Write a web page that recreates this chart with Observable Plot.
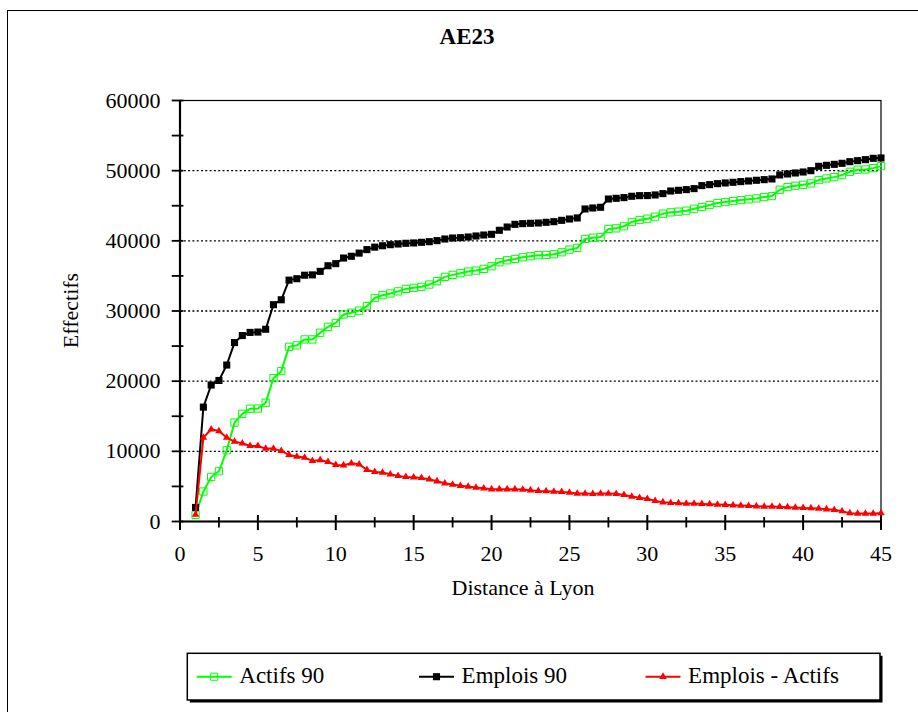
<!DOCTYPE html>
<html><head><meta charset="utf-8">
<script src="https://cdn.jsdelivr.net/npm/d3@7"></script>
<script src="https://cdn.jsdelivr.net/npm/@observablehq/plot@0.6"></script>
<style>
body{margin:0;background:#fff;}
#wrap{position:relative;width:918px;height:712px;overflow:hidden;font-family:'Liberation Serif','Times New Roman',serif;}
#border{position:absolute;left:7px;top:10px;width:960px;height:760px;border:1.6px solid #000;}
#chart{position:absolute;left:0;top:0;}
#overlay{position:absolute;left:0;top:0;}
svg text{font-family:'Liberation Serif','Times New Roman',serif;}
</style></head><body>
<div id="wrap"><div id="border"></div><div id="chart"></div><svg id="overlay" width="918" height="712"></svg></div>
<script>
const title = "AE23";
const xTitle = "Distance à Lyon";
const yTitle = "Effectifs";
const seriesNames = ["Actifs 90", "Emplois 90", "Emplois - Actifs"];
const seriesColors = ["#00ff00", "#000000", "#ff0000"];

const distances = [1,1.5,2,2.5,3,3.5,4,4.5,5,5.5,6,6.5,7,7.5,8,8.5,9,9.5,10,10.5,
  11,11.5,12,12.5,13,13.5,14,14.5,15,15.5,16,16.5,17,17.5,18,18.5,19,19.5,20,20.5,
  21,21.5,22,22.5,23,23.5,24,24.5,25,25.5,26,26.5,27,27.5,28,28.5,29,29.5,30,30.5,
  31,31.5,32,32.5,33,33.5,34,34.5,35,35.5,36,36.5,37,37.5,38,38.5,39,39.5,40,40.5,
  41,41.5,42,42.5,43,43.5,44,44.5,45];

const actifs90 = [950,4270,6350,7160,10150,14100,15350,16070,16100,16930,20430,21430,24900,25100,25950,25950,26900,27750,28300,29500,
  29750,30050,30700,31850,32250,32500,32800,33150,33300,33450,33770,34250,34860,35150,35380,35620,35760,36000,36380,36950,
  37230,37420,37660,37800,37950,37990,38090,38370,38750,38990,40270,40450,40550,41690,41780,42070,42690,42970,43160,43450,
  43870,44060,44160,44300,44580,44820,45100,45390,45530,45670,45810,45910,46050,46240,46380,47280,47660,47850,47990,48180,
  48660,48890,49080,49370,49840,50130,50170,50360,50650];

const emplois90 = [2000,16300,19450,20100,22300,25500,26500,26950,27000,27400,30900,31600,34400,34600,35100,35150,35650,36450,36750,37550,
  37800,38250,38750,39100,39300,39450,39550,39650,39700,39790,39880,40030,40260,40400,40450,40550,40690,40830,40930,41500,
  41970,42350,42450,42500,42540,42640,42730,42920,43110,43260,44540,44680,44780,45960,46060,46160,46350,46440,46450,46540,
  46730,47100,47200,47300,47440,47870,48010,48150,48250,48340,48440,48530,48630,48720,48820,49390,49530,49670,49810,50000,
  50620,50760,50900,51050,51280,51430,51570,51760,51810];

const emploisMoinsActifs = [1000,11950,13140,12900,11950,11380,11150,10770,10770,10390,10390,10060,9490,9250,9110,8630,8770,8490,8060,8020,
  8300,8160,7350,7070,6970,6730,6500,6360,6300,6210,6020,5740,5450,5260,5080,4980,4840,4740,4600,4600,
  4600,4600,4550,4460,4360,4320,4270,4220,4130,3980,3980,3940,3980,3980,3940,3790,3560,3370,3230,2940,
  2750,2660,2610,2560,2560,2510,2470,2420,2370,2320,2280,2230,2180,2140,2140,2090,2040,1990,1940,1900,
  1850,1750,1660,1470,1190,1140,1140,1140,1190];

const yLabelTicks = [0,10000,20000,30000,40000,50000,60000];
const yGridTicks = [10000,20000,30000,40000,50000];
const yMarkTicks = [0,5000,10000,15000,20000,25000,30000,35000,40000,45000,50000,55000,60000];
const xLabelTicks = [0,5,10,15,20,25,30,35,40,45];
const xMinorTicks = [2.5,7.5,12.5,17.5,22.5,27.5,32.5,37.5,42.5];

const toRows = vals => distances.map((d, i) => ({d, v: vals[i]}));
const rowsA = toRows(actifs90), rowsE = toRows(emplois90), rowsD = toRows(emploisMoinsActifs);

const FONT = "'Liberation Serif','Times New Roman',serif";
const chart = Plot.plot({
  width: 918, height: 712,
  marginLeft: 179.5, marginRight: 37.5, marginTop: 100, marginBottom: 191,
  x: {domain: [0, 45]},
  y: {domain: [0, 60000]},
  style: {background: "transparent", fontFamily: FONT, fontSize: "22px", color: "#000", overflow: "visible"},
  marks: [
    Plot.ruleY(yGridTicks, {stroke: "#000", strokeWidth: 1.4, strokeDasharray: "2,2.3"}),
    Plot.frame({stroke: "#000", strokeWidth: 1.2}),
    Plot.axisY({ticks: yLabelTicks, tickSize: 0, tickPadding: 19.5, tickFormat: d => String(d), label: null, fontSize: 22}),
    Plot.axisX({ticks: xLabelTicks, tickSize: 0, tickPadding: 24, tickFormat: d => String(d), label: null, fontSize: 22}),
    Plot.ruleY(yMarkTicks, {x1: -0.5, x2: 0.25, stroke: "#000", strokeWidth: 1.8}),
    Plot.ruleX(xLabelTicks, {y1: -1300, y2: 850, stroke: "#000", strokeWidth: 2}),
    Plot.ruleX(xMinorTicks, {y1: -920, y2: 560, stroke: "#000", strokeWidth: 1.8}),
    Plot.ruleX([0], {stroke: "#000", strokeWidth: 2.2}),
    Plot.ruleY([0], {stroke: "#000", strokeWidth: 2.2}),
    Plot.line(rowsA, {x: "d", y: "v", stroke: seriesColors[0], strokeWidth: 2}),
    Plot.dot(rowsA, {x: "d", y: "v", symbol: "square", r: 4.1, stroke: seriesColors[0], fill: "none", strokeWidth: 1}),
    Plot.line(rowsE, {x: "d", y: "v", stroke: seriesColors[1], strokeWidth: 2}),
    Plot.dot(rowsE, {x: "d", y: "v", symbol: "square", r: 4, fill: seriesColors[1], stroke: "none"}),
    Plot.line(rowsD, {x: "d", y: "v", stroke: seriesColors[2], strokeWidth: 2}),
    Plot.dot(rowsD, {x: "d", y: "v", symbol: "triangle", r: 2.8, fill: seriesColors[2], stroke: "none"})
  ]
});
document.getElementById("chart").appendChild(chart);

// Titles and legend
const ov = d3.select("#overlay");
ov.append("text").attr("x", 467).attr("y", 44).attr("text-anchor", "middle")
  .attr("font-size", 23).attr("font-weight", "bold").text(title);
ov.append("text").attr("transform", "translate(78,310.5) rotate(-90)").attr("text-anchor", "middle")
  .attr("font-size", 22).text(yTitle);
ov.append("text").attr("x", 523).attr("y", 595).attr("text-anchor", "middle")
  .attr("font-size", 22).text(xTitle);

const lg = {x: 187.3, y: 653.3, w: 692.7, h: 46.7};
ov.append("rect").attr("x", lg.x + 2.5).attr("y", lg.y + 2.5).attr("width", lg.w).attr("height", lg.h).attr("fill", "#000");
ov.append("rect").attr("x", lg.x).attr("y", lg.y).attr("width", lg.w).attr("height", lg.h)
  .attr("fill", "#fff").attr("stroke", "#000").attr("stroke-width", 1.5);
const itemX = [196.7, 419, 645.5];
const symbols = [d3.symbolSquare, d3.symbolSquare, d3.symbolTriangle];
seriesNames.forEach((name, i) => {
  const x0 = itemX[i], ly = 676.7;
  ov.append("line").attr("x1", x0).attr("x2", x0 + 35).attr("y1", ly).attr("y2", ly)
    .attr("stroke", seriesColors[i]).attr("stroke-width", 2);
  const r = i === 2 ? 2.8 : 4;
  const p = ov.append("path").attr("d", d3.symbol(symbols[i], Math.PI * r * r)())
    .attr("transform", `translate(${x0 + 17.5},${ly})`);
  if (i === 0) p.attr("fill", "none").attr("stroke", seriesColors[i]).attr("stroke-width", 1);
  else p.attr("fill", seriesColors[i]);
  ov.append("text").attr("x", x0 + 42.6).attr("y", 683).attr("font-size", 23).text(name);
});
</script>
</body></html>
